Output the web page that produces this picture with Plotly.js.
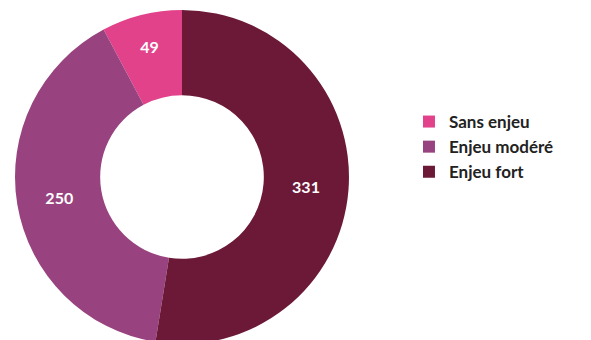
<!DOCTYPE html>
<html>
<head>
<meta charset="utf-8">
<script src="https://cdn.plot.ly/plotly-3.0.1.min.js"></script>
<style>
html,body{margin:0;padding:0;overflow:hidden;background:#fff;}
#chart{width:591px;height:350px;}
</style>
</head>
<body>
<div id="chart"></div>
<script>
var categories = ["Sans enjeu", "Enjeu modéré", "Enjeu fort"];
var values = [49, 250, 331];
var colors = ["#e1428a", "#98437f", "#6c1937"];

var trace = {
  type: "pie",
  labels: categories,
  values: values,
  hole: 0.49,
  sort: false,
  direction: "counterclockwise",
  rotation: -28,
  textinfo: "value",
  textposition: "inside",
  insidetextorientation: "horizontal",
  textfont: {color: "#ffffff", size: 16, family: "Lato, 'Open Sans', sans-serif", weight: "bold"},
  marker: {colors: colors, line: {width: 0}},
  domain: {x: [0.0254, 0.5905], y: [0.0171, 0.9714]},
  hoverinfo: "label+value"
};

var layout = {
  width: 591,
  height: 350,
  margin: {l: 0, r: 0, t: 0, b: 0},
  paper_bgcolor: "#ffffff",
  showlegend: true,
  legend: {
    x: 0.692, y: 0.58, xanchor: "left", yanchor: "middle",
    font: {family: "Lato, 'Open Sans', sans-serif", size: 17, color: "#222222", weight: "bold"},
    itemwidth: 30,
    traceorder: "normal"
  }
};

Plotly.newPlot("chart", [trace], layout, {displayModeBar: false, staticPlot: true});
</script>
</body>
</html>
